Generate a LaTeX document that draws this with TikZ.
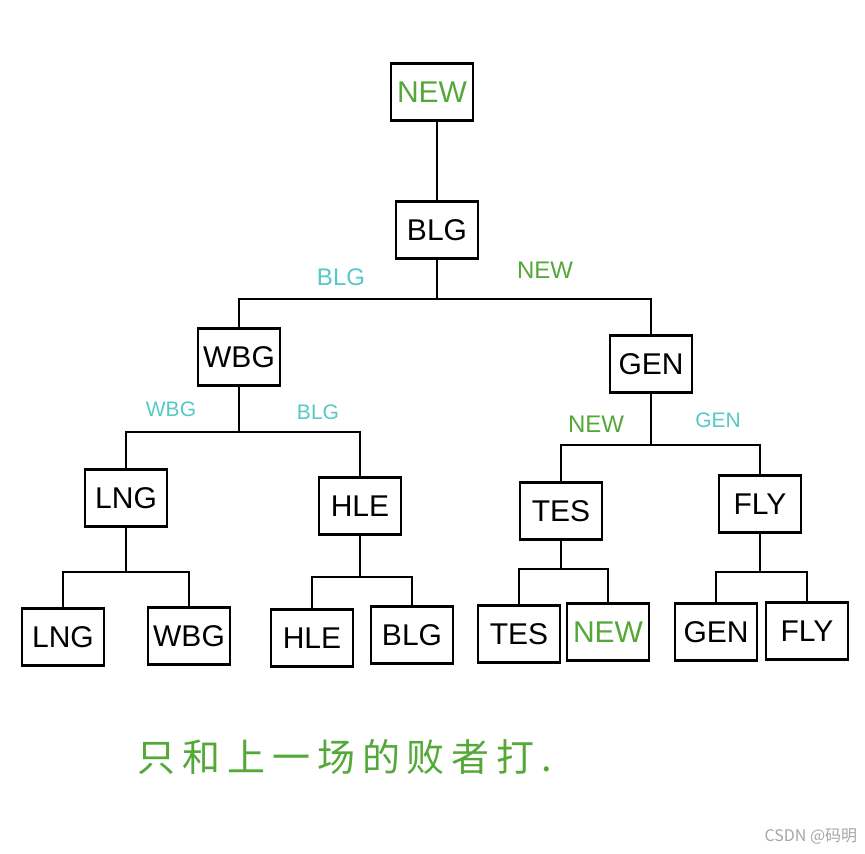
\documentclass[tikz,border=0pt]{standalone}
\usepackage{fontspec}
\setmainfont{Liberation Sans}
\newfontfamily\cjkFont{Noto Sans CJK SC}
\definecolor{newGreen}{RGB}{84,168,56}
\definecolor{pickCyan}{RGB}{86,200,200}
\newcommand{\boxWidth}{41pt}
\newcommand{\boxHeight}{28.5pt}

\begin{document}
\begin{tikzpicture}[x=0.5pt, y=-0.5pt, thick,
    team/.style={draw, line width=1.4pt, minimum width=\boxWidth, minimum height=\boxHeight, inner sep=0pt, font=\fontsize{15}{15}\selectfont},
    pick/.style={inner sep=0pt, font=\fontsize{12}{12}\selectfont},
    pickSmall/.style={inner sep=0pt, font=\fontsize{10.5}{10.5}\selectfont}]
    \useasboundingbox (0,0) rectangle (865,853);
		% final and semifinal
		\node[team, text=newGreen] (NEW) at (432,92) {NEW};
		\node[team] (BLG) at (437,230) {BLG};
		\node[team] (WBG) at (239,357) {WBG};
		\node[team] (GEN) at (651,364) {GEN};
		% quarterfinal
		\node[team] (LNG) at (126,498) {LNG};
		\node[team] (HLE) at (360,506) {HLE};
		\node[team] (TES) at (561,511) {TES};
		\node[team] (FLY) at (760,504) {FLY};
		% first round
		\node[team] (lngLeaf) at (63,637) {LNG};
		\node[team] (wbgLeaf) at (189,636) {WBG};
		\node[team] (hleLeaf) at (312,638) {HLE};
		\node[team] (blgLeaf) at (412,635) {BLG};
		\node[team] (tesLeaf) at (519,634) {TES};
		\node[team, text=newGreen] (newLeaf) at (608,632) {NEW};
		\node[team] (genLeaf) at (716,632) {GEN};
		\node[team] (flyLeaf) at (807,631) {FLY};
		% bracket lines
		\draw (BLG.north) -- (BLG.north |- NEW.south);
		\coordinate (jBLG) at (437,299);
		\draw (BLG) -- (jBLG);
		\draw (WBG.north) |- (jBLG) -| (GEN.north);
		\coordinate (jWBG) at (239,432);
		\draw (WBG) -- (jWBG);
		\draw (LNG.north) |- (jWBG) -| (HLE.north);
		\coordinate (jGEN) at (651,445);
		\draw (GEN) -- (jGEN);
		\draw (TES.north) |- (jGEN) -| (FLY.north);
		\coordinate (jLNG) at (126,572);
		\draw (LNG) -- (jLNG);
		\draw (lngLeaf.north) |- (jLNG) -| (wbgLeaf.north);
		\coordinate (jHLE) at (360,577);
		\draw (HLE) -- (jHLE);
		\draw (hleLeaf.north) |- (jHLE) -| (blgLeaf.north);
		\coordinate (jTES) at (561,569);
		\draw (TES) -- (jTES);
		\draw (tesLeaf.north) |- (jTES) -| (newLeaf.north);
		\coordinate (jFLY) at (760,572);
		\draw (FLY) -- (jFLY);
		\draw (genLeaf.north) |- (jFLY) -| (flyLeaf.north);
		% picks
		\node[pick, text=pickCyan] (pickBLG) at (341,277) {BLG};
		\node[pick, text=newGreen] (pickNEW) at (545,270) {NEW};
		\node[pickSmall, text=pickCyan] (pickWBG) at (171,409) {WBG};
		\node[pickSmall, text=pickCyan] (pickBLGb) at (318,412) {BLG};
		\node[pick, text=newGreen] (pickNEWb) at (596,424) {NEW};
		\node[pickSmall, text=pickCyan] (pickGEN) at (718,420) {GEN};
		% note
		\node[anchor=west, inner sep=0pt, text=newGreen, font=\cjkFont\addfontfeature{LetterSpace=18}\fontsize{19}{19}\selectfont] (note) at (137,757) {只和上一场的败者打.};
		\node[anchor=east, inner sep=0pt, text=black!35, font=\cjkFont\fontsize{8}{8}\selectfont] (mark) at (858,836) {CSDN @码明};
	\end{tikzpicture}
\end{document}
